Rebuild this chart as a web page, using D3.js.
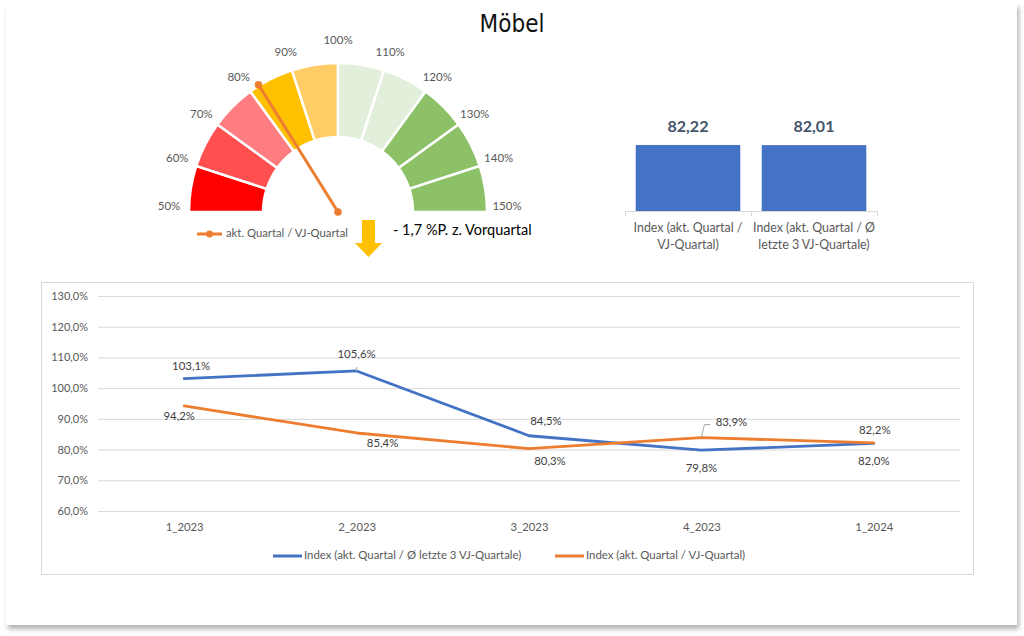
<!DOCTYPE html>
<html><head><meta charset="utf-8">
<script src="https://cdn.jsdelivr.net/npm/d3@7"></script>
<style>
html,body{margin:0;padding:0;background:#fff;}
svg{display:block;}
text{font-family:Lato,"Open Sans",sans-serif;}
</style>
</head><body>
<svg id="c" width="1024" height="636"></svg>
<script>
// ---------- DATA ----------
const title = "Möbel";
const gaugeTicks = [50, 60, 70, 80, 90, 100, 110, 120, 130, 140, 150];
const gaugeColors = ["#FF0000", "#FF4F4F", "#FF7C80", "#FFC000", "#FFCC66", "#E2EFDA", "#E2EFDA", "#8CC168", "#8CC168", "#8CC168"];
const gaugeValue = 82.22;
const gaugeLegend = "akt. Quartal / VJ-Quartal";
const changeText = "- 1,7 %P. z. Vorquartal";

const barCategories = [["Index (akt. Quartal /", "VJ-Quartal)"], ["Index (akt. Quartal / Ø", "letzte 3 VJ-Quartale)"]];
const barValues = [82.22, 82.01];
const barLabels = ["82,22", "82,01"];

const quarters = ["1_2023", "2_2023", "3_2023", "4_2023", "1_2024"];
const seriesNames = ["Index (akt. Quartal / Ø letzte 3 VJ-Quartale)", "Index (akt. Quartal / VJ-Quartal)"];
const seriesAvg3 = [103.1, 105.6, 84.5, 79.8, 82.0];
const seriesVJ = [94.2, 85.4, 80.3, 83.9, 82.2];
const yTicks = [60, 70, 80, 90, 100, 110, 120, 130];

// ---------- STYLE / LAYOUT ----------
const blue = "#4472C4", orange = "#ED7D31", grey = "#595959";
// label offsets (dx, dy) relative to each point
const avgLabelOff = [[7, -12], [0, -16], [17, -14], [0, 19], [0, 19]];
const vjLabelOff = [[-5, 11], [26, 11], [21, 13], [30, -14], [1, -12]];

const svg = d3.select("#c");
const defs = svg.append("defs");
const f = defs.append("filter").attr("id", "sh").attr("x", "-5%").attr("y", "-5%").attr("width", "110%").attr("height", "110%");
f.append("feDropShadow").attr("dx", 2).attr("dy", 4).attr("stdDeviation", 2.5).attr("flood-color", "#000").attr("flood-opacity", 0.3);

svg.append("rect").attr("x", 6).attr("y", 3).attr("width", 1011).attr("height", 622)
  .attr("fill", "#fff").attr("filter", "url(#sh)");

svg.append("text").attr("x", 512).attr("y", 32).attr("text-anchor", "middle")
  .style("font-family", "'Liberation Sans Narrow','Arial Narrow','DejaVu Sans Condensed',sans-serif")
  .attr("font-size", 24).attr("fill", "#111").text(title);

// ---------- GAUGE ----------
const gc = {x: 338, y: 212};
const gAng = d3.scaleLinear().domain([50, 150]).range([-Math.PI / 2, Math.PI / 2]);
const gauge = svg.append("g").attr("transform", `translate(${gc.x},${gc.y})`);
const arc = d3.arc().innerRadius(75).outerRadius(149);
const segs = d3.range(gaugeTicks.length - 1).map(i => ({a: gaugeTicks[i], b: gaugeTicks[i + 1], c: gaugeColors[i]}));
gauge.selectAll("path.seg").data(segs).join("path").attr("class", "seg")
  .attr("d", d => arc({startAngle: gAng(d.a), endAngle: gAng(d.b)}))
  .attr("fill", d => d.c).attr("stroke", "#fff").attr("stroke-width", 2.5);
gauge.selectAll("text.gl").data(gaugeTicks).join("text").attr("class", "gl")
  .attr("x", d => 169 * Math.sin(gAng(d)))
  .attr("y", d => -166 * Math.cos(gAng(d)) - 5 + 6 * Math.abs(Math.sin(2 * gAng(d))))
  .attr("text-anchor", "middle").attr("dominant-baseline", "middle")
  .attr("font-size", 11.5).attr("fill", grey).text(d => d + "%");
const na = gAng(gaugeValue);
const nx = 150 * Math.sin(na), ny = -150 * Math.cos(na);
gauge.append("line").attr("x1", 0).attr("y1", 0).attr("x2", nx).attr("y2", ny)
  .attr("stroke", orange).attr("stroke-width", 3);
gauge.selectAll("circle.nd").data([[0, 0], [nx, ny]]).join("circle").attr("class", "nd")
  .attr("cx", d => d[0]).attr("cy", d => d[1]).attr("r", 3.8).attr("fill", orange);

// gauge legend
svg.append("line").attr("x1", 197).attr("x2", 222).attr("y1", 234).attr("y2", 234).attr("stroke", orange).attr("stroke-width", 3);
svg.append("circle").attr("cx", 209.5).attr("cy", 234).attr("r", 3.5).attr("fill", orange);
svg.append("text").attr("x", 226).attr("y", 234).attr("dominant-baseline", "middle")
  .attr("font-size", 11.3).attr("fill", grey).text(gaugeLegend);

// arrow
svg.append("path").attr("d", "M362,220 L375,220 L375,243 L382,243 L368.5,257 L355,243 L362,243 Z").attr("fill", "#FFC000");
svg.append("text").attr("x", 393).attr("y", 231).attr("dominant-baseline", "middle")
  .attr("font-size", 14.5).attr("fill", "#000").text(changeText);

// ---------- BAR CHART ----------
const bx = d3.scaleBand().domain(d3.range(barValues.length)).range([625, 877]).paddingInner(0.17).paddingOuter(0.085);
const by = d3.scaleLinear().domain([0, 100]).range([211, 130.7]);
svg.selectAll("rect.bar").data(barValues).join("rect").attr("class", "bar")
  .attr("x", (d, i) => bx(i)).attr("width", bx.bandwidth())
  .attr("y", d => by(d)).attr("height", d => by(0) - by(d)).attr("fill", blue);
svg.append("line").attr("x1", 625).attr("x2", 877).attr("y1", 211.5).attr("y2", 211.5).attr("stroke", "#D9D9D9");
[625, 751, 877].forEach(x => svg.append("line").attr("x1", x + 0.5).attr("x2", x + 0.5).attr("y1", 211).attr("y2", 216).attr("stroke", "#D9D9D9"));
svg.selectAll("text.bv").data(barValues).join("text").attr("class", "bv")
  .attr("x", (d, i) => bx(i) + bx.bandwidth() / 2).attr("y", d => by(d) - 17)
  .attr("text-anchor", "middle").attr("dominant-baseline", "middle")
  .attr("font-size", 16).attr("font-weight", "bold").attr("fill", "#44546A")
  .text((d, i) => barLabels[i]);
barCategories.forEach((lines, i) => {
  lines.forEach((t, j) => {
    svg.append("text").attr("x", bx(i) + bx.bandwidth() / 2).attr("y", 229 + j * 17)
      .attr("text-anchor", "middle").attr("dominant-baseline", "middle")
      .attr("font-size", 12.4).attr("fill", grey).text(t);
  });
});

// ---------- LINE CHART ----------
svg.append("rect").attr("x", 41.5).attr("y", 282.5).attr("width", 932).attr("height", 292)
  .attr("fill", "none").attr("stroke", "#D9D9D9");
const loc = d3.formatLocale({decimal: ",", thousands: ".", grouping: [3], currency: ["", "€"]});
const fmt1 = loc.format(".1f");
const x = d3.scalePoint().domain(quarters).range([98, 960]).padding(0.5);
const y = d3.scaleLinear().domain([60, 130]).range([511, 296]);
const yAxis = svg.append("g").attr("transform", "translate(98,0)")
  .call(d3.axisLeft(y).tickValues(yTicks).tickSize(-862).tickPadding(10).tickFormat(d => fmt1(d) + "%"));
yAxis.select(".domain").remove();
yAxis.selectAll("line").attr("stroke", "#D9D9D9");
yAxis.selectAll("text").attr("font-size", 11).attr("fill", grey).style("font-family", "Lato,sans-serif");
const xAxis = svg.append("g").attr("transform", "translate(0,511)")
  .call(d3.axisBottom(x).tickSize(0).tickPadding(12));
xAxis.select(".domain").remove();
xAxis.selectAll("text").attr("font-size", 11.3).attr("fill", grey).style("font-family", "Lato,sans-serif");

const line = d3.line().x((d, i) => x(quarters[i])).y(d => y(d));
svg.append("path").datum(seriesAvg3).attr("d", line).attr("fill", "none").attr("stroke", blue).attr("stroke-width", 2.8).attr("stroke-linejoin", "round").attr("stroke-linecap", "round");
svg.append("path").datum(seriesVJ).attr("d", line).attr("fill", "none").attr("stroke", orange).attr("stroke-width", 2.8).attr("stroke-linejoin", "round").attr("stroke-linecap", "round");

// leader lines
svg.append("line").attr("x1", x(quarters[1])).attr("x2", x(quarters[1])).attr("y1", y(seriesAvg3[1]) - 4).attr("y2", y(seriesAvg3[1])).attr("stroke", "#A6A6A6");
svg.append("path").attr("d", `M${x(quarters[3])},${y(seriesVJ[3])} L${x(quarters[3]) + 3},${y(seriesVJ[3]) - 13} L${x(quarters[3]) + 9},${y(seriesVJ[3]) - 13}`)
  .attr("fill", "none").attr("stroke", "#A6A6A6");

function labels(data, off) {
  svg.append("g").selectAll("text").data(data).join("text")
    .attr("x", (d, i) => x(quarters[i]) + off[i][0]).attr("y", (d, i) => y(d) + off[i][1])
    .attr("text-anchor", "middle").attr("dominant-baseline", "middle")
    .attr("font-size", 11.4).attr("fill", "#404040").text(d => fmt1(d) + "%");
}
labels(seriesAvg3, avgLabelOff);
labels(seriesVJ, vjLabelOff);

// legend
const lg = [{x: 273, c: blue, t: seriesNames[0]}, {x: 555, c: orange, t: seriesNames[1]}];
lg.forEach(d => {
  svg.append("line").attr("x1", d.x).attr("x2", d.x + 29).attr("y1", 556).attr("y2", 556).attr("stroke", d.c).attr("stroke-width", 3);
  svg.append("text").attr("x", d.x + 31).attr("y", 556).attr("dominant-baseline", "middle")
    .attr("font-size", 11.4).attr("fill", grey).text(d.t);
});
</script>
</body></html>
